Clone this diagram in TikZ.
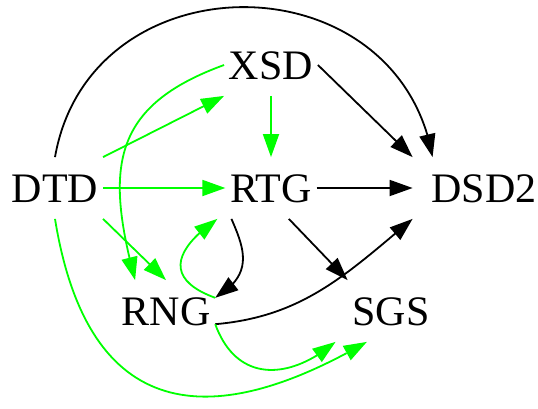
\documentclass[tikz,border=0pt]{standalone}
\usepackage{fontspec}
\setmainfont{Liberation Serif}
\usetikzlibrary{arrows.meta,bending}

\begin{document}
\begin{tikzpicture}[x=1pt,y=1pt,line width=1.8pt,>={Triangle[length=23pt,width=16pt]}]
	\tikzstyle{word}=[font=\fontsize{42}{50}\selectfont,text height=28pt,text depth=0pt,inner xsep=4pt,inner ysep=16pt]
	\tikzstyle{gedge}=[->,green]
	\tikzstyle{kedge}=[->,black]

	\useasboundingbox (0,0) rectangle (538,408);

	\node[word](xsd) at (271,343){XSD};
	\node[word](dtd) at (55,220){DTD};
	\node[word](rtg) at (271,220){RTG};
	\node[word,inner xsep=18pt](dsd2) at (484,220){DSD2};
	\node[word](rng) at (166,97){RNG};
	\node[word](sgs) at (391,97){SGS};

	\draw[gedge] (dtd.north east) -- (xsd.south west);
	\draw[gedge] (dtd) -- (rtg);
	\draw[gedge] (dtd.south east) -- (rng.north);
	\draw[gedge] (dtd.south) .. controls +(40,-247) and +(-104,-60) .. (sgs.232);
	\draw[kedge] (dtd.north) .. controls +(35,200) and +(-35,200) .. (dsd2.149);

	\draw[gedge] (xsd) -- (rtg);
	\draw[gedge] (xsd.west) to[out=200,in=105,looseness=1.3] (rng.135);
	\draw[kedge] (xsd.east) -- (dsd2.north west);

	\draw[kedge] (rtg) -- (dsd2);
	\draw[kedge] (rtg.-60) -- (sgs.north west);
	\draw[kedge] (rtg.218) .. controls +(14,-32) and +(38,23) .. (rng.15);

	\draw[gedge] (rng.15) to[out=160,in=215,looseness=1.75] ([xshift=-8pt]rtg.south west);
	\draw[kedge] (rng.-15) to[out=5,in=220] (dsd2.south west);
	\draw[gedge] (rng.-15) to[out=-70,in=220,looseness=1.3] ([xshift=-12pt]sgs.south west);

\end{tikzpicture}
\end{document}
